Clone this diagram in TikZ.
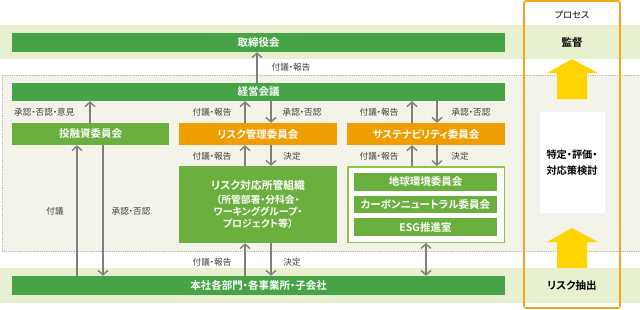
\documentclass[tikz,border=0pt]{standalone}
\usepackage{fontspec}
\setmainfont{Noto Sans CJK JP}[BoldFont={Noto Sans CJK JP Bold},RawFeature=+palt]
\usetikzlibrary{arrows.meta}
\definecolor{mgreen}{HTML}{46A447}
\definecolor{sgreen}{HTML}{6BAF3E}
\definecolor{lgreenb}{HTML}{8DC63F}
\definecolor{bandg}{HTML}{E7F0CF}
\definecolor{beige}{HTML}{F4F3E9}
\definecolor{orng}{HTML}{EE9E00}
\definecolor{procor}{HTML}{F3A81A}
\definecolor{yel}{HTML}{FFD400}
\definecolor{arrg}{HTML}{7E7E7E}
\definecolor{lbl}{HTML}{3C3C3C}
\tikzset{
  bar/.style={fill=mgreen, text=white, font=\bfseries\fontsize{10.5}{12}\selectfont, inner sep=0pt, minimum height=19pt, minimum width=493pt},
  subbox/.style={fill=sgreen, text=white, font=\bfseries\fontsize{10.5}{12}\selectfont, inner sep=0pt, minimum height=22pt, minimum width=158pt},
  orbox/.style={fill=orng, text=white, font=\bfseries\fontsize{10.5}{12}\selectfont, inner sep=0pt, minimum height=22pt, minimum width=158pt},
  inbox/.style={fill=sgreen, text=white, font=\bfseries\fontsize{10.5}{12}\selectfont, inner sep=0pt, minimum height=18pt, minimum width=143pt},
  arr/.style={draw=arrg, line width=1.4pt, -{Straight Barb[length=4.5pt,width=10pt]}},
  darr/.style={draw=arrg, line width=1.4pt, {Straight Barb[length=4.5pt,width=10pt]}-{Straight Barb[length=4.5pt,width=10pt]}},
  lab/.style={text=lbl, font=\fontsize{8.6}{10}\selectfont, inner sep=0pt},
  ptext/.style={text=black, font=\bfseries\fontsize{10}{11}\selectfont, inner sep=0pt, align=center},
}
\begin{document}
\begin{tikzpicture}[x=1pt,y=-1pt]
\useasboundingbox (0,0) rectangle (640,309);
\fill[white] (0,0) rectangle (640,309);
% background bands
\fill[bandg] (0,25) rectangle (640,59);
\fill[bandg] (0,268) rectangle (640,303);
\draw[beige, fill=beige] (2,75) rectangle (641,251);
\draw[gray!55, densely dotted, line width=0.8pt] (641,75) -- (2,75) -- (2,251) -- (641,251);
% process column
\draw[procor, line width=1.6pt, rounded corners=2pt] (524,1) rectangle (620,308);
\node[text=black, font=\fontsize{9.2}{10}\selectfont, inner sep=0pt] (proc) at (572,15) {プロセス};
\node[ptext, font=\bfseries\fontsize{10.5}{12}\selectfont] (kantoku) at (572,43) {監督};
\node[draw=black!5, line width=2.5pt, fill=white, minimum width=67pt, minimum height=103pt, inner sep=0pt] (pbox) at (572.5,162.5) {};
\node[ptext, font=\bfseries\fontsize{10.2}{16}\selectfont] (ptxt) at (572,163) {特定・評価・\\対応策検討};
\node[ptext, font=\bfseries\fontsize{10.5}{12}\selectfont] (chushutsu) at (572,286) {リスク抽出};
\fill[yel] (557,99) -- (557,73) -- (547,73) -- (572,59) -- (598,73) -- (587,73) -- (587,99) -- cycle;
\fill[yel] (557,268) -- (557,242) -- (547,242) -- (572,228) -- (598,242) -- (587,242) -- (587,268) -- cycle;
% main bars
\node[bar] (board) at (258.5,42.5) {取締役会};
\node[bar, minimum height=18pt] (exec) at (258.5,92) {経営会議};
\node[bar] (base) at (258.5,285.5) {本社各部門・各事業所・子会社};
% committees
\node[subbox, minimum width=157pt] (invest) at (90.5,134) {投融資委員会};
\node[orbox] (riskc) at (258,134) {リスク管理委員会};
\node[orbox] (sustc) at (426,134) {サステナビリティ委員会};
\node[subbox, minimum height=77pt, align=center, font=\bfseries] (riskorg) at (258,204.5)
  {\fontsize{10.8}{13}\selectfont リスク対応所管組織\\[2pt]\fontsize{9.8}{11}\selectfont （所管部署・分科会・\\ワーキンググループ・\\プロジェクト等）};
\node[draw=lgreenb, line width=1.5pt, fill=white, minimum width=156.5pt, minimum height=75.5pt, inner sep=0pt] (sustgrp) at (426,204.5) {};
\node[inbox] (earth) at (425.5,182) {地球環境委員会};
\node[inbox, minimum height=17pt] (carbon) at (425.5,204.5) {カーボンニュートラル委員会};
\node[inbox] (esg) at (425.5,227) {ESG推進室};
% arrow coordinates
\coordinate (c1) at ([xshift=-1.5pt]exec.north);
\coordinate (c2) at ([xshift=-0.5pt]invest.north);
\coordinate (r1) at ([xshift=-13pt]riskc.north);
\coordinate (r2) at ([xshift=13pt]riskc.north);
\coordinate (s1) at ([xshift=-14pt]sustc.north);
\coordinate (s2) at ([xshift=11pt]sustc.north);
\coordinate (i1) at ([xshift=-13.5pt]invest.south);
\coordinate (i2) at ([xshift=12.5pt]invest.south);
\coordinate (g1) at (sustgrp.south);
% arrows
\draw[arr] (c1) -- (c1 |- board.south);
\draw[arr] (c2) -- (c2 |- exec.south);
\draw[arr] (r1) -- (r1 |- exec.south);
\draw[arr] (r2 |- exec.south) -- (r2);
\draw[arr] (s1) -- (s1 |- exec.south);
\draw[arr] (s2 |- exec.south) -- (s2);
\draw[arr] (r1 |- riskorg.north) -- (r1 |- riskc.south);
\draw[arr] (r2 |- riskc.south) -- (r2 |- riskorg.north);
\draw[arr] (s1 |- sustgrp.north) -- (s1 |- sustc.south);
\draw[arr] (s2 |- sustc.south) -- (s2 |- sustgrp.north);
\draw[arr] (i1 |- base.north) -- (i1);
\draw[arr] (i2) -- (i2 |- base.north);
\draw[arr] (r1 |- base.north) -- (r1 |- riskorg.south);
\draw[arr] (r2 |- riskorg.south) -- (r2 |- base.north);
\draw[darr] (g1) -- (g1 |- base.north);
% labels
\node[lab] (l1) at (291,67) {付議・報告};
\node[lab, anchor=west] (l2) at (14,112) {承認・否認・意見};
\node[lab] (l3) at (212,112) {付議・報告};
\node[lab] (l4) at (302,112) {承認・否認};
\node[lab] (l5) at (379,112) {付議・報告};
\node[lab] (l6) at (471,112) {承認・否認};
\node[lab] (l7) at (212,156) {付議・報告};
\node[lab] (l8) at (292,156) {決定};
\node[lab] (l9) at (379,156) {付議・報告};
\node[lab] (l10) at (460,156) {決定};
\node[lab] (l11) at (55,211) {付議};
\node[lab] (l12) at (131,211) {承認・否認};
\node[lab] (l13) at (212,262) {付議・報告};
\node[lab] (l14) at (292,262) {決定};
\end{tikzpicture}
\end{document}
